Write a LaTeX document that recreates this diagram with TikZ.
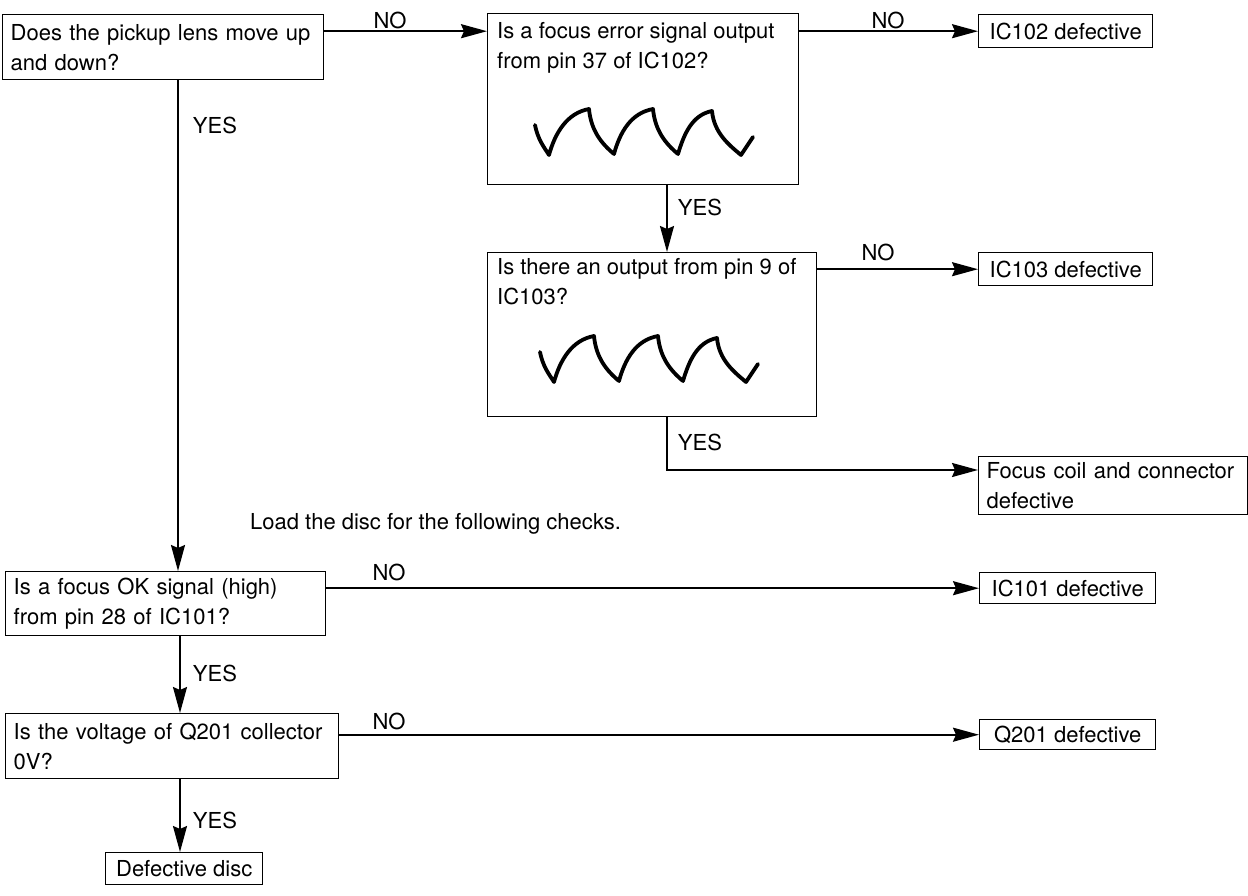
\documentclass[tikz,border=0pt]{standalone}
\usepackage{fontspec}
\setmainfont{TeX Gyre Heros}
\usetikzlibrary{arrows.meta}
\tikzset{
  box/.style={draw, line width=1.4pt, anchor=north west, inner xsep=8pt, inner ysep=0pt,
    align=left, font=\fontsize{22}{30}\selectfont},
  sbox/.style={draw, line width=1.4pt, anchor=north west, inner xsep=6pt, inner ysep=0pt,
    font=\fontsize{22}{30}\selectfont},
  txt/.style={anchor=north west, inner sep=0pt, align=left, font=\fontsize{22}{30}\selectfont},
  lab/.style={inner sep=0pt, font=\fontsize{22}{30}\selectfont},
  conn/.style={line width=2pt},
  arr/.style={conn, -{Stealth[length=26pt,width=14pt,inset=3pt]}},
  wave/.style={line width=3.8pt, line join=round, line cap=round},
}
\newcommand\drawwave[1]{%
  \draw[wave] (#1) .. controls +(3,15) and +(-5,-8) .. ++(14,30)
    .. controls +(6,-22) and +(-22,4) .. ++(40,-46)
    .. controls +(2,22) and +(-12,-10) .. ++(25,45)
    .. controls +(6,-22) and +(-22,4) .. ++(39,-45)
    .. controls +(2,22) and +(-12,-10) .. ++(25,45)
    .. controls +(6,-20) and +(-20,4) .. ++(34,-43)
    .. controls +(2,22) and +(-12,-10) .. ++(29,44)
    -- ++(12,-18);}
\begin{document}
\begin{tikzpicture}[x=1pt,y=-1pt]
\useasboundingbox (0,0) rectangle (1248,896);
% boxes
\node[box, text width=305pt, minimum height=65pt] (A) at (2,14) {Does the pickup lens move up\\and down?};
\node[box, minimum width=311pt, minimum height=171pt] (B) at (487,13) {};
\node[txt] (Bt) at (497,22) {Is a focus error signal output\\from pin 37 of IC102?};
\node[sbox, minimum width=174pt, minimum height=33pt] (C) at (978,14) {IC102 defective};
\node[box, minimum width=329pt, minimum height=164pt] (D) at (487,252) {};
\node[txt] (Dt) at (497,258) {Is there an output from pin 9 of\\IC103?};
\node[sbox, minimum width=174pt, minimum height=33pt] (E) at (978,252) {IC103 defective};
\node[box, text width=253pt, minimum height=58pt] (F) at (978,456) {Focus coil and connector\\defective};
\node[box, text width=304pt, minimum height=64pt] (G) at (5,571) {Is a focus OK signal (high)\\from pin 28 of IC101?};
\node[box, text width=317pt, minimum height=65pt] (H) at (5,713) {Is the voltage of Q201 collector\\0V?};
\node[sbox, minimum width=157pt, minimum height=32pt] (I) at (105,852) {Defective disc};
\node[sbox, minimum width=176pt, minimum height=31pt] (J) at (979,572) {IC101 defective};
\node[sbox, minimum width=176pt, minimum height=30pt] (K) at (979,719) {Q201 defective};
% waveforms
\coordinate (wB) at (535,125);
\coordinate (wD) at (540,352);
\drawwave{wB}
\drawwave{wD}
% helper x positions
\coordinate (xBD) at (667,0);
\coordinate (xAG) at (178,0);
\coordinate (xGH) at (180,0);
\coordinate (fIn) at ([yshift=-14pt]F.north west);
% connectors
\draw[arr] (A.east |- C.west) -- (B.west |- C.west);
\draw[arr] (B.east |- C.west) -- (C.west);
\draw[arr] (B.south -| xBD) -- (D.north -| xBD);
\draw[arr] (D.east |- E.west) -- (E.west);
\draw[arr] (D.south -| xBD) |- (fIn);
\draw[arr] (A.south -| xAG) -- (G.north -| xAG);
\draw[arr] (G.east |- J.west) -- (J.west);
\draw[arr] (G.south -| xGH) -- (H.north -| xGH);
\draw[arr] (H.east |- K.west) -- (K.west);
\draw[arr] (H.south -| xGH) -- (I.north -| xGH);
% labels
\node[lab] (n1) at (390,20) {NO};
\node[lab] (n2) at (888,20) {NO};
\node[lab] (y1) at (700,207) {YES};
\node[lab] (n3) at (878,252) {NO};
\node[lab] (y2) at (700,442) {YES};
\node[lab] (y3) at (215,125) {YES};
\node[lab, anchor=west] (load) at (250,524) {Load the disc for the following checks.};
\node[lab] (n4) at (389,572) {NO};
\node[lab] (y4) at (215,673) {YES};
\node[lab] (n5) at (389,721) {NO};
\node[lab] (y5) at (215,820) {YES};
\end{tikzpicture}
\end{document}
